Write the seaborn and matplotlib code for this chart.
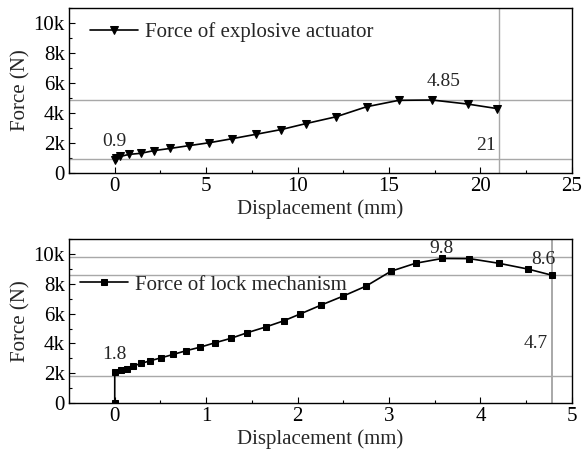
import matplotlib
matplotlib.use("Agg")
import matplotlib.pyplot as plt
import seaborn as sns
import pandas as pd
from matplotlib.ticker import MultipleLocator, FuncFormatter

# ---- data ----
act_disp = [0.0, 0.05, 0.3, 0.78, 1.41, 2.14, 3.04, 4.04, 5.18, 6.43, 7.72, 9.11,
            10.47, 12.1, 13.77, 15.54, 17.36, 19.3, 20.9]
act_force = [850, 1020, 1100, 1240, 1310, 1490, 1640, 1820, 2020, 2290, 2580, 2900,
             3300, 3750, 4420, 4850, 4870, 4600, 4300]

lock_disp = [0.0, 0.0, 0.07, 0.13, 0.2, 0.29, 0.39, 0.51, 0.64, 0.78, 0.93, 1.1, 1.27,
             1.45, 1.65, 1.85, 2.03, 2.26, 2.5, 2.75, 3.02, 3.29, 3.58, 3.88, 4.2, 4.52, 4.78]
lock_force = [0, 2050, 2200, 2300, 2480, 2660, 2840, 3040, 3260, 3510, 3740, 4050, 4340,
              4720, 5100, 5520, 5980, 6580, 7180, 7850, 8840, 9380, 9700, 9690, 9380, 8990, 8580]

act_label = "Force of explosive actuator"
lock_label = "Force of lock mechanism"

act_hlines = [4850, 900]
act_vline = 21
lock_hlines = [9800, 8600, 1800]
lock_vline = 4.78

act_texts = [(0.0, 2100, "0.9"), (18.0, 6100, "4.85"), (20.3, 1850, "21")]
lock_texts = [(0.0, 3250, "1.8"), (3.57, 10400, "9.8"), (4.69, 9650, "8.6"), (4.6, 4000, "4.7")]

sns.set_theme(style="ticks")
plt.rcParams["font.family"] = ["Liberation Serif", "DejaVu Serif"]

fig = plt.figure(figsize=(5.82, 4.54), dpi=100)
ax1 = fig.add_axes([0.1186, 0.619, 0.864, 0.363])
ax2 = fig.add_axes([0.1186, 0.1123, 0.864, 0.361])

kfmt = FuncFormatter(lambda v, p: "0" if v == 0 else f"{int(v/1000)}k")

TICK_FS = 15
LAB_FS = 15
LEG_FS = 15
ANN_FS = 14

def setup(ax, xlim, xmaj, xmin):
    ax.set_xlim(*xlim)
    ax.set_ylim(0, 11000)
    ax.xaxis.set_major_locator(MultipleLocator(xmaj))
    ax.xaxis.set_minor_locator(MultipleLocator(xmin))
    ax.yaxis.set_major_locator(MultipleLocator(2000))
    ax.yaxis.set_minor_locator(MultipleLocator(1000))
    ax.yaxis.set_major_formatter(kfmt)
    ax.tick_params(which="both", direction="in", top=False, right=False,
                   labelsize=TICK_FS, colors="black")
    ax.tick_params(which="major", length=4, width=0.8, pad=3)
    ax.tick_params(which="minor", length=2.5, width=0.8)
    for s in ax.spines.values():
        s.set_visible(True)
        s.set_linewidth(1.0)
        s.set_color("black")

setup(ax1, (-2.5, 25), 5, 2.5)
setup(ax2, (-0.5, 5), 1, 0.5)

gray = "#a8a8a8"
for h in act_hlines:
    ax1.axhline(h, color=gray, lw=1.0, zorder=1)
ax1.axvline(act_vline, color=gray, lw=1.0, zorder=1)
for h in lock_hlines:
    ax2.axhline(h, color=gray, lw=1.0, zorder=1)
ax2.axvline(lock_vline, color=gray, lw=1.4, zorder=1)

df1 = pd.DataFrame({"d": act_disp, "f": act_force})
df2 = pd.DataFrame({"d": lock_disp, "f": lock_force})
sns.lineplot(data=df1, x="d", y="f", ax=ax1, color="black", lw=1.2, marker="v",
             markersize=6, markeredgecolor="black", estimator=None, sort=False,
             label=act_label, zorder=3)
sns.lineplot(data=df2, x="d", y="f", ax=ax2, color="black", lw=1.2, marker="s",
             markersize=4.8, markeredgecolor="black", estimator=None, sort=False,
             label=lock_label, zorder=3)
for ax in (ax1, ax2):
    ax.set_xlabel("Displacement (mm)", fontsize=LAB_FS, labelpad=2)
    ax.set_ylabel("Force (N)", fontsize=LAB_FS, labelpad=2)

ax1.legend(loc="upper left", bbox_to_anchor=(0.042, 0.915), frameon=False,
           borderaxespad=0, borderpad=0, handlelength=2.3, handletextpad=0.35,
           fontsize=LEG_FS)
ax2.legend(loc="upper left", bbox_to_anchor=(0.022, 0.78), frameon=False,
           borderaxespad=0, borderpad=0, handlelength=2.3, handletextpad=0.35,
           fontsize=LEG_FS)

for x, y, t in act_texts:
    ax1.text(x, y, t, ha="center", va="center", fontsize=ANN_FS)
for x, y, t in lock_texts:
    ax2.text(x, y, t, ha="center", va="center", fontsize=ANN_FS)

fig.savefig("out.png", dpi=100)
